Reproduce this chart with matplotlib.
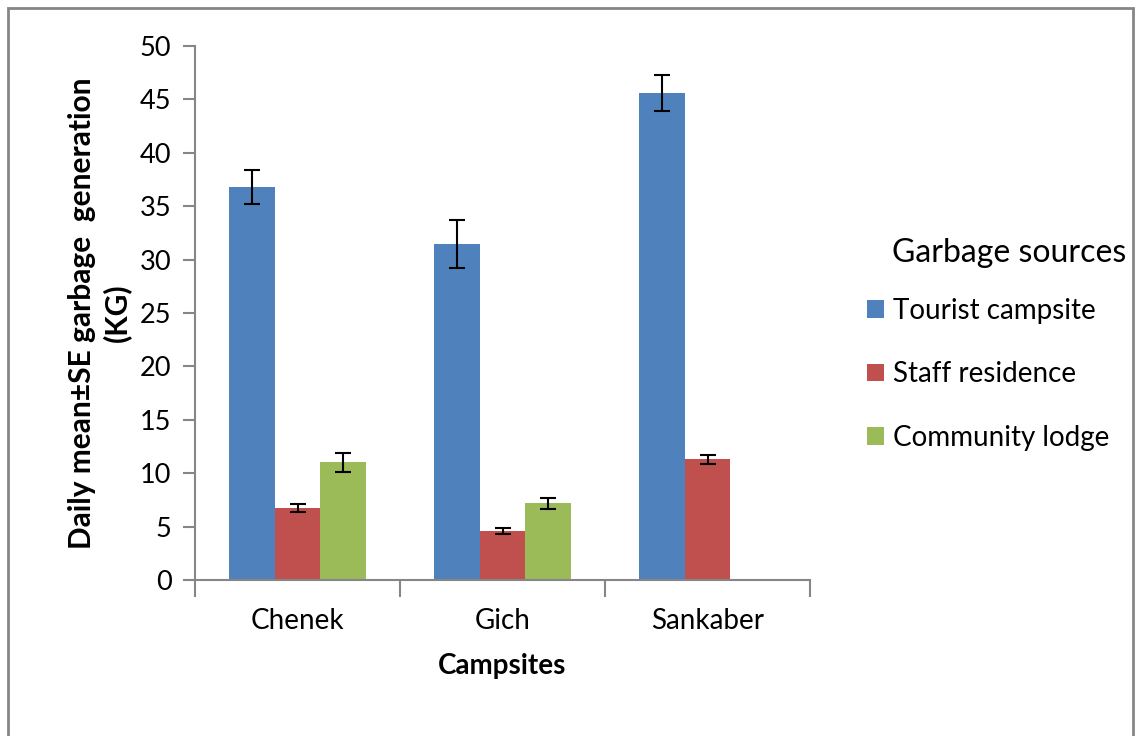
import matplotlib.pyplot as plt
import numpy as np
from matplotlib.patches import Rectangle

plt.rcParams['font.family'] = ['Lato', 'DejaVu Sans']

campsites = ["Chenek", "Gich", "Sankaber"]
sources = ["Tourist campsite", "Staff residence", "Community lodge"]
colors = ["#4f81bd", "#c0504d", "#9bbb59"]

tourist = [36.8, 31.5, 45.6]
tourist_se = [1.55, 2.25, 1.7]
staff = [6.75, 4.6, 11.3]
staff_se = [0.4, 0.25, 0.4]
lodge = [11.0, 7.2, np.nan]
lodge_se = [0.85, 0.52, np.nan]

means = [tourist, staff, lodge]
errs = [tourist_se, staff_se, lodge_se]

fig = plt.figure(figsize=(11.37, 7.36), dpi=100)
ax = fig.add_axes([0.1715, 0.212, 0.541, 0.7255])

x = np.arange(len(campsites))
w = 0.222
grey = "#868686"
for i in range(3):
    pos = x + (i - 1) * w
    ax.bar(pos, means[i], width=w, color=colors[i], label=sources[i], zorder=2)
    ax.errorbar(pos, means[i], yerr=errs[i], fmt="none", ecolor="black",
                elinewidth=1.5, capsize=5.5, capthick=1.5, zorder=3)

ax.set_xlim(-0.5, 2.5)
ax.set_ylim(0, 50)
ax.set_yticks(np.arange(0, 51, 5))
ax.set_xticks(x)
ax.set_xticklabels(campsites, fontsize=20)
ax.set_xticks([-0.5, 0.5, 1.5, 2.5], minor=True)
ax.tick_params(axis="x", which="major", length=0, pad=20)
ax.tick_params(axis="x", which="minor", length=12, width=1.5, color=grey)
ax.tick_params(axis="y", length=9, width=1.5, color=grey, labelsize=19.5, pad=8)
for s in ["top", "right"]:
    ax.spines[s].set_visible(False)
for s in ["left", "bottom"]:
    ax.spines[s].set_color(grey)
    ax.spines[s].set_linewidth(1.5)

ax.set_xlabel("Campsites", fontsize=20, fontweight="bold", labelpad=14)
ax.set_ylabel("Daily mean\u00b1SE garbage  generation\n(KG)", fontsize=21.5,
              fontweight="bold", labelpad=6, linespacing=1.25)

fig.text(1009 / 1137, 1 - 253 / 736, "Garbage sources", fontsize=23,
         ha="center", va="center")
ax.legend(loc="upper left", bbox_to_anchor=(853 / 1137, 1 - 284 / 736),
          bbox_transform=fig.transFigure, frameon=False, fontsize=20,
          handlelength=0.6, handleheight=0.6, handletextpad=0.35,
          labelspacing=1.35, borderpad=0)

fig.patches.append(Rectangle((8 / 1137, -0.05), 1125 / 1137, 1.05 - 8 / 736,
                             transform=fig.transFigure, fill=False,
                             edgecolor=grey, linewidth=2))

fig.savefig("out.png", dpi=100)
